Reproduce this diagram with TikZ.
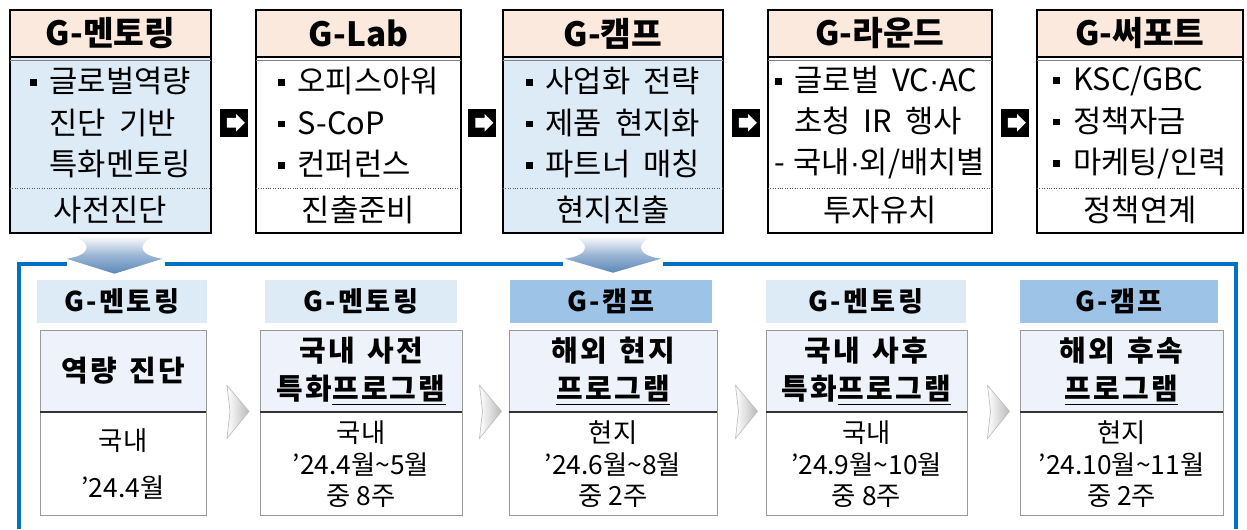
\documentclass[tikz,border=0pt]{standalone}
\usepackage{fontspec}
\setmainfont{Noto Sans CJK KR}
\newfontfamily\krwide[LetterSpace=8]{Noto Sans CJK KR}
\newfontfamily\latinfont{Liberation Sans}
\usepackage{xcolor}
\definecolor{colorHead}{HTML}{FCE9DD}
\definecolor{colorFocus}{HTML}{DDEBF7}
\definecolor{colorPhase}{HTML}{DDEBF7}
\definecolor{colorPhaseKey}{HTML}{9DC3E6}
\definecolor{colorPhaseTop}{HTML}{EEF3FB}
\definecolor{colorFrame}{HTML}{0070C0}
\definecolor{colorDrop}{HTML}{5B87B8}
\usepackage{tikz}
\usetikzlibrary{positioning, calc, shapes.arrows}
\newcommand{\sq}{\raisebox{0.22em}{\rule{0.22em}{0.22em}}}
\newcommand{\sqsp}{\phantom{\sq\ }}
\newcommand{\mdot}{{\latinfont\textperiodcentered}}
\newcommand{\widesp}{\spaceskip=0.42em plus 0.1em\relax}
\tikzset{
  tophead/.style={minimum height=0.94cm, fill=colorHead, inner sep=0pt, font=\fontsize{19}{22}\selectfont\bfseries},
  topbody/.style={minimum height=2.6cm, inner sep=0pt, align=left, font=\fontsize{17.5}{23.5}\selectfont\widesp},
  topfoot/.style={minimum height=0.88cm, inner sep=0pt, font=\fontsize{17.5}{20}\selectfont},
  boxline/.style={line width=1.3pt, black},
  nextbox/.style={fill=black, minimum size=0.56cm, inner sep=0pt},
  nextglyph/.style={single arrow, fill=white, inner xsep=0pt, inner ysep=0.09cm, minimum height=0.36cm, single arrow head extend=0.08cm},
  drop/.style={top color=white, bottom color=colorDrop, middle color=colorDrop!60},
  frameline/.style={line width=2.2pt, colorFrame},
  phasehead/.style={minimum height=0.86cm, fill=colorPhase, inner sep=0pt, font=\krwide\fontsize{15.5}{18}\selectfont\bfseries},
  phasetop/.style={minimum height=1.64cm, fill=colorPhaseTop, draw=gray!80, inner sep=0pt, align=center, font=\krwide\fontsize{16.5}{21.5}\selectfont\bfseries\widesp},
  phasebot/.style={minimum height=2.06cm, fill=white, draw=gray!80, inner sep=0pt, align=center, font=\fontsize{15}{18}\selectfont},
  chevron/.style={left color=white, right color=gray!55, draw=gray!50, line width=0.4pt},
}

\begin{document}
\begin{tikzpicture}[x=0.02cm, y=-0.02cm]
\useasboundingbox (0,0) rectangle (1247,529);
% top row
\node[tophead, minimum width=4.02cm] (h1) at (110.5,33.5) {G-멘토링};
\node[topbody, minimum width=4.02cm, fill=colorFocus, below=0pt of h1] (b1) {\sq\ 글로벌역량\\\sqsp 진단 기반\\\sqsp 특화멘토링};
\node[topfoot, minimum width=4.02cm, fill=colorFocus, below=0pt of b1] (f1) {사전진단};
\node[tophead, minimum width=4.10cm] (h2) at (358.5,33.5) {G-Lab};
\node[topbody, minimum width=4.10cm, below=0pt of h2] (b2) {\sq\ 오피스아워\\\sq\ S-CoP\\\sq\ 컨퍼런스};
\node[topfoot, minimum width=4.10cm, below=0pt of b2] (f2) {진출준비};
\node[tophead, minimum width=4.40cm] (h3) at (613,33.5) {G-캠프};
\node[topbody, minimum width=4.40cm, fill=colorFocus, below=0pt of h3] (b3) {\sq\ 사업화 전략\\\sq\ 제품 현지화\\\sq\ 파트너 매칭};
\node[topfoot, minimum width=4.40cm, fill=colorFocus, below=0pt of b3] (f3) {현지진출};
\node[tophead, minimum width=4.48cm] (h4) at (880,33.5) {G-라운드};
\node[topbody, minimum width=4.48cm, below=0pt of h4] (b4) {\sq\ 글로벌 VC\mdot AC\\\sqsp 초청 IR 행사\\-\hspace{0.25em}국내\mdot 외/배치별};
\node[topfoot, minimum width=4.48cm, below=0pt of b4] (f4) {투자유치};
\node[tophead, minimum width=4.12cm] (h5) at (1140,33.5) {G-써포트};
\node[topbody, minimum width=4.12cm, below=0pt of h5] (b5) {\sq\ KSC/GBC\\\sq\ 정책자금\\\sq\ 마케팅/인력};
\node[topfoot, minimum width=4.12cm, below=0pt of b5] (f5) {정책연계};
\foreach \i in {1,...,5} {
  \draw[boxline] (h\i.north west) rectangle (f\i.south east);
  \draw[line width=1pt] (h\i.south west) -- (h\i.south east);
  \draw[gray, line width=0.6pt] ([yshift=-0.06cm]h\i.south west) -- ([yshift=-0.06cm]h\i.south east);
  \draw[densely dotted, gray!70!black] (b\i.south west) -- (b\i.south east);
}
% arrows between the top boxes
\node[nextbox] (k12) at ($(b1.east)!0.5!(b2.west)$) {};
\node[nextglyph] at (k12) {};
\node[nextbox] (k23) at ($(b2.east)!0.5!(b3.west)$) {};
\node[nextglyph] at (k23) {};
\node[nextbox] (k34) at ($(b3.east)!0.5!(b4.west)$) {};
\node[nextglyph] at (k34) {};
\node[nextbox] (k45) at ($(b4.east)!0.5!(b5.west)$) {};
\node[nextglyph] at (k45) {};
% frame and drops
\draw[frameline] (67,264) -- (19,264) -- (19,529);
\draw[frameline] (165,264) -- (563,264);
\draw[frameline] (663,264) -- (1236,264) -- (1236,529);
\shade[drop, shift={(f1.south)}, xshift=0.08cm] (-43,3) -- (43,3) .. controls (24,8) and (20,22) .. (48,26) -- (0,41) -- (-48,26) .. controls (-20,22) and (-24,8) .. (-43,3) -- cycle;
\shade[drop, shift={(f3.south)}] (-43,3) -- (43,3) .. controls (24,8) and (20,22) .. (48,26) -- (0,40) -- (-48,26) .. controls (-20,22) and (-24,8) .. (-43,3) -- cycle;
% bottom row
\node[phasehead, minimum width=3.40cm] (p1) at (122,301.5) {G-멘토링};
\node[phasetop, minimum width=3.32cm] (q1) at (123,371) {역량 진단};
\node[phasebot, minimum width=3.32cm, below=0pt of q1] (r1) {국내\\[0.3cm]’24.4월};
\node[phasehead, minimum width=3.84cm] (p2) at (361,301.5) {G-멘토링};
\node[phasetop, minimum width=4.04cm] (q2) at (361,371) {국내 사전\\특화\underline{프로그램}};
\node[phasebot, minimum width=4.04cm, below=0pt of q2] (r2) {국내\\’24.4월\textasciitilde5월\\중 8주};
\node[phasehead, minimum width=4.04cm, fill=colorPhaseKey] (p3) at (611,301.5) {G-캠프};
\node[phasetop, minimum width=4.16cm] (q3) at (613,371) {해외 현지\\\underline{프로그램}};
\node[phasebot, minimum width=4.16cm, below=0pt of q3] (r3) {현지\\’24.6월\textasciitilde8월\\중 2주};
\node[phasehead, minimum width=4.00cm] (p4) at (866,301.5) {G-멘토링};
\node[phasetop, minimum width=4.02cm] (q4) at (866.5,371) {국내 사후\\특화\underline{프로그램}};
\node[phasebot, minimum width=4.02cm, below=0pt of q4] (r4) {국내\\’24.9월\textasciitilde10월\\중 8주};
\node[phasehead, minimum width=3.96cm, fill=colorPhaseKey] (p5) at (1119,301.5) {G-캠프};
\node[phasetop, minimum width=4.06cm] (q5) at (1121.5,371) {해외 후속\\\underline{프로그램}};
\node[phasebot, minimum width=4.06cm, below=0pt of q5] (r5) {현지\\’24.10월\textasciitilde11월\\중 2주};
\foreach \i in {1,...,5} {
  \draw[gray!40!black, line width=1pt] (q\i.south west) -- (q\i.south east);
}
% chevrons between the phases
\foreach \a/\b in {1/2,2/3,3/4,4/5} {
  \coordinate (c\a\b) at ($(q\a.south east)!0.5!(q\b.south west)$);
  \shade[chevron, shift={(c\a\b)}, xshift=0.1cm] (-11,-27) -- (11,-1) -- (-11,26) -- (-8,-1) -- cycle;
}
\end{tikzpicture}
\end{document}
